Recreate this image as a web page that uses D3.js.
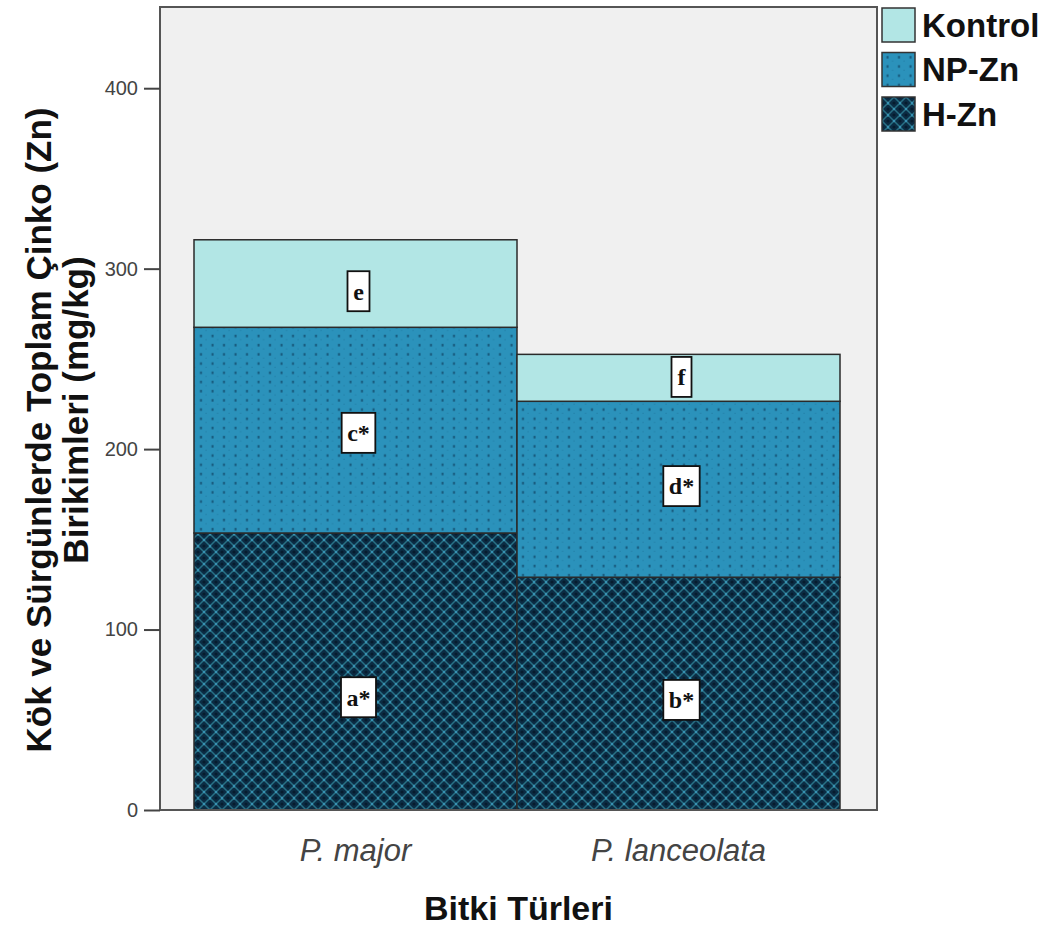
<!DOCTYPE html>
<html>
<head>
<meta charset="utf-8">
<script src="https://cdn.jsdelivr.net/npm/d3@7"></script>
<style>
  html, body { margin: 0; padding: 0; background: #ffffff; }
  svg { display: block; }
</style>
</head>
<body>
<svg id="chart" width="1049" height="927"></svg>
<script>
// Plant species on the x axis
const species = ["P. major", "P. lanceolata"];
// Stack order, bottom to top
const treatments = ["H-Zn", "NP-Zn", "Kontrol"];
// Legend order, top to bottom
const legendOrder = ["Kontrol", "NP-Zn", "H-Zn"];
// Zn accumulation (mg/kg) per treatment segment
const hZn = [153.5, 129];
const npZn = [114, 97.5];
const kontrol = [48.5, 26];
// Significance letters for each segment
const letterH = ["a*", "b*"];
const letterNP = ["c*", "d*"];
const letterK = ["e", "f"];
// Value (mg/kg) at which each letter is anchored
const letterAtH = [62.5, 61];
const letterAtNP = [209, 179.5];
const letterAtK = [287.5, 240];
const yTicks = [0, 100, 200, 300, 400];

const svg = d3.select("#chart");
const plot = { left: 160, right: 877, top: 7, bottom: 810 };
const sans = "'Liberation Sans', Arial, sans-serif";

const x = d3.scaleBand().domain(species).range([194, 840]).padding(0);
const y = d3.scaleLinear().domain([0, 445]).range([plot.bottom, plot.top]);

// Fill patterns
const defs = svg.append("defs");

const np = defs.append("pattern").attr("id", "pat-np")
  .attr("patternUnits", "userSpaceOnUse").attr("width", 11.5).attr("height", 9.2);
np.append("rect").attr("width", 11.5).attr("height", 9.2).attr("fill", "#2b92bb");
np.append("rect").attr("x", 4.5).attr("y", 3.5).attr("width", 2).attr("height", 2.6).attr("fill", "#17597c");
np.append("rect").attr("x", 10).attr("y", 8).attr("width", 1.2).attr("height", 1.2).attr("fill", "#2380a8");

const hp = defs.append("pattern").attr("id", "pat-h")
  .attr("patternUnits", "userSpaceOnUse").attr("width", 12).attr("height", 12);
hp.append("rect").attr("width", 12).attr("height", 12).attr("fill", "#0b2c44");
hp.append("path").attr("d", "M0,0L12,12M12,0L0,12M-6,6L6,-6M6,18L18,6M-6,6L6,18M6,-6L18,6")
  .attr("stroke", "#276f84").attr("stroke-width", 1.5).attr("fill", "none");
[[6, 6], [0, 0], [12, 0], [0, 12], [12, 12]].forEach(([cx, cy]) => {
  hp.append("circle").attr("cx", cx).attr("cy", cy).attr("r", 1.2).attr("fill", "#3892b4");
});
[[6, 0], [0, 6], [12, 6], [6, 12]].forEach(([cx, cy]) => {
  hp.append("circle").attr("cx", cx).attr("cy", cy).attr("r", 1.6).attr("fill", "#061c2e");
});

const fills = { "Kontrol": "#b2e6e5", "NP-Zn": "url(#pat-np)", "H-Zn": "url(#pat-h)" };

// Plot background
svg.append("rect")
  .attr("x", plot.left).attr("y", plot.top)
  .attr("width", plot.right - plot.left).attr("height", plot.bottom - plot.top)
  .attr("fill", "#f0f0f0");

// Stacked data
const rows = species.map((s, i) => ({ species: s, "H-Zn": hZn[i], "NP-Zn": npZn[i], "Kontrol": kontrol[i] }));
const stacked = d3.stack().keys(treatments)(rows);

const layers = svg.append("g").selectAll("g").data(stacked).join("g")
  .attr("fill", d => fills[d.key]);
layers.selectAll("rect").data(d => d).join("rect")
  .attr("x", d => x(d.data.species))
  .attr("width", x.bandwidth())
  .attr("y", d => y(d[1]))
  .attr("height", d => y(d[0]) - y(d[1]))
  .attr("stroke", "#2a2a2a").attr("stroke-width", 1.5);

// Significance letters
const letters = [];
species.forEach((s, i) => {
  letters.push({ s, text: letterH[i], v: letterAtH[i] });
  letters.push({ s, text: letterNP[i], v: letterAtNP[i] });
  letters.push({ s, text: letterK[i], v: letterAtK[i] });
});
const lg = svg.append("g").selectAll("g").data(letters).join("g")
  .attr("transform", d => `translate(${x(d.s) + x.bandwidth() / 2 + 3},${y(d.v)})`);
lg.append("text")
  .attr("text-anchor", "middle").attr("dy", "0.35em")
  .style("font-family", "'Liberation Serif', 'Times New Roman', serif")
  .style("font-weight", "bold").style("font-size", "24px").attr("fill", "#111")
  .text(d => d.text);
lg.each(function () {
  const g = d3.select(this);
  const bb = g.select("text").node().getBBox();
  const w = bb.width + 11, h = 40;
  g.insert("rect", "text")
    .attr("x", -w / 2).attr("y", -h / 2).attr("width", w).attr("height", h)
    .attr("fill", "#ffffff").attr("stroke", "#111").attr("stroke-width", 1.8);
});

// Plot frame
svg.append("rect")
  .attr("x", plot.left).attr("y", plot.top)
  .attr("width", plot.right - plot.left).attr("height", plot.bottom - plot.top)
  .attr("fill", "none").attr("stroke", "#555").attr("stroke-width", 2);

// Y axis
const yAxis = svg.append("g").attr("transform", `translate(${plot.left},0)`)
  .call(d3.axisLeft(y).tickValues(yTicks).tickSize(16).tickPadding(6));
yAxis.select(".domain").remove();
yAxis.selectAll(".tick line").attr("stroke", "#444").attr("stroke-width", 2);
yAxis.selectAll(".tick text")
  .style("font-family", sans).style("font-size", "20px").attr("fill", "#444");

// X axis labels
const xAxis = svg.append("g").attr("transform", `translate(0,${plot.bottom})`)
  .call(d3.axisBottom(x).tickSize(0).tickPadding(0));
xAxis.select(".domain").remove();
xAxis.selectAll(".tick text")
  .attr("y", 51).attr("dy", null)
  .style("font-family", sans)
  .style("font-size", "31px").style("font-style", "italic").attr("fill", "#444");

// Axis titles
svg.append("text")
  .attr("x", (plot.left + plot.right) / 2).attr("y", 920)
  .attr("text-anchor", "middle")
  .style("font-family", sans)
  .style("font-weight", "bold").style("font-size", "34px").attr("fill", "#111")
  .text("Bitki Türleri");

const yTitle = svg.append("g")
  .style("font-family", sans)
  .style("font-weight", "bold").style("font-size", "35px").attr("fill", "#111");
yTitle.append("text")
  .attr("transform", "translate(51,430) rotate(-90)")
  .attr("text-anchor", "middle")
  .text("Kök ve Sürgünlerde Toplam Çinko (Zn)");
yTitle.append("text")
  .attr("transform", "translate(88,410) rotate(-90)")
  .attr("text-anchor", "middle")
  .text("Birikimleri (mg/kg)");

// Legend
const legend = svg.append("g").selectAll("g").data(legendOrder).join("g")
  .attr("transform", (d, i) => `translate(882,${8 + i * 44.5})`);
legend.append("rect")
  .attr("width", 33).attr("height", 34)
  .attr("fill", d => fills[d])
  .attr("stroke", "#333").attr("stroke-width", 1.5);
legend.append("text")
  .attr("x", 40).attr("y", 17).attr("dy", "0.36em")
  .style("font-family", sans)
  .style("font-weight", "bold").style("font-size", "33px").attr("fill", "#111")
  .text(d => d);
</script>
</body>
</html>
